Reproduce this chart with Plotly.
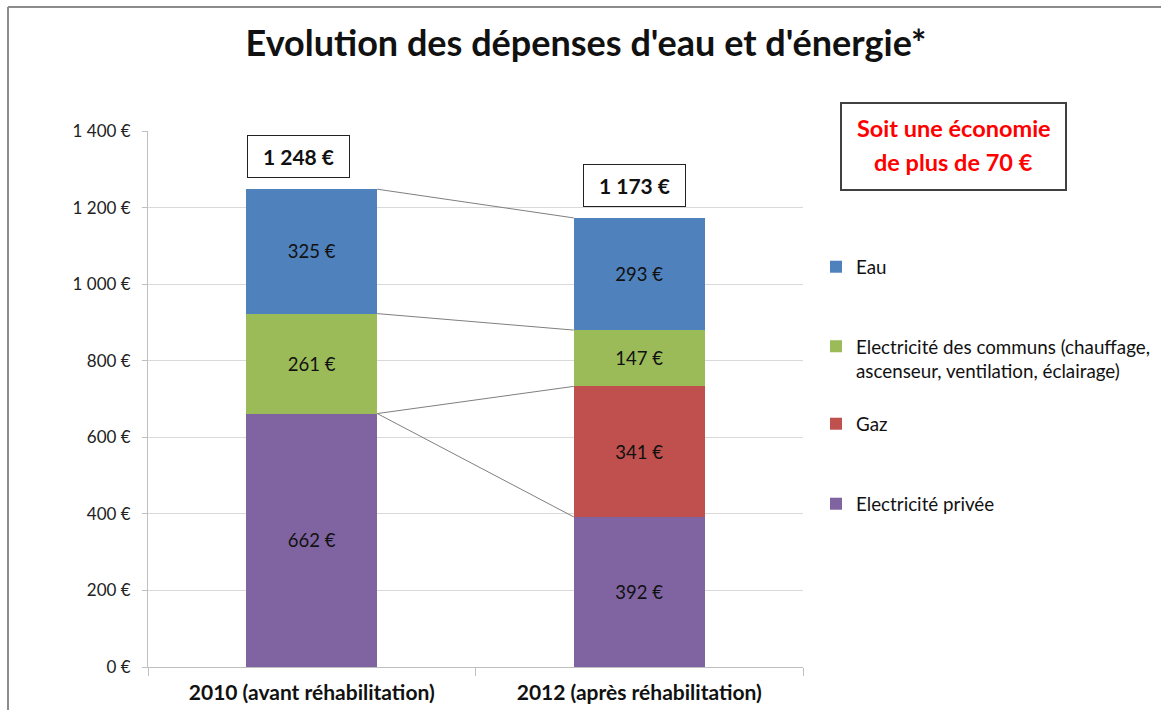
import plotly.graph_objects as go

# ---- data ----
categories = ["2010 (avant réhabilitation)", "2012 (après réhabilitation)"]
series_names = ["Electricité privée", "Gaz",
                "Electricité des communs (chauffage,<br>ascenseur, ventilation, éclairage)", "Eau"]
elec_privee = [662, 392]
gaz = [0, 341]
elec_communs = [261, 147]
eau = [325, 293]
y_tickvals = [0, 200, 400, 600, 800, 1000, 1200, 1400]
y_ticktext = ["0 €", "200 €", "400 €", "600 €", "800 €", "1 000 €", "1 200 €", "1 400 €"]
note_lines = ["Soit une économie", "de plus de 70 €"]

colors = ["#8064A2", "#C0504D", "#9BBB59", "#4F81BD"]
series_vals = [elec_privee, gaz, elec_communs, eau]

FONT = "Lato"
W, H = 1161, 710
L, R, T, B = 148, 803, 131, 667


def px_x(p):
    return (p - L) / (R - L)


def px_y(p):
    return (B - p) / (B - T)


def fmt(v):
    return f"{v:,}".replace(",", " ") + " €"


xpos = list(range(len(categories)))
BW = 0.4
fig = go.Figure()

legend_ids = ["legend4", "legend3", "legend2", "legend"]
for name, vals, col, lg in zip(series_names, series_vals, colors, legend_ids):
    fig.add_trace(go.Bar(
        x=xpos, y=vals, name=name, width=BW,
        marker=dict(color=col, line=dict(width=0)),
        text=[fmt(v) if v else "" for v in vals],
        textposition="inside", insidetextanchor="middle", textangle=0,
        constraintext="none",
        textfont=dict(family=FONT, size=18.5, color="#111111"),
        legend=lg,
    ))

# series lines connecting stacked tops
cum = [0, 0]
for vals in series_vals:
    cum = [c + v for c, v in zip(cum, vals)]
    fig.add_trace(go.Scatter(
        x=[xpos[0] + BW / 2, xpos[1] - BW / 2], y=list(cum), mode="lines",
        line=dict(color="#7F7F7F", width=1), showlegend=False, hoverinfo="skip"))

totals = [sum(v[i] for v in series_vals) for i in range(len(categories))]
shifts = [-13, -5]
for i, tot in enumerate(totals):
    fig.add_annotation(x=xpos[i], y=tot, xref="x", yref="y", yanchor="bottom",
                       yshift=11, xshift=shifts[i],
                       text=f"<b>{fmt(tot)}</b>", showarrow=False,
                       font=dict(family=FONT, size=21, color="#111111"),
                       width=101, height=41, bgcolor="white",
                       bordercolor="#222222", borderwidth=1, borderpad=0)

# note box
fig.add_shape(type="rect", xref="paper", yref="paper",
              x0=px_x(841), x1=px_x(1066), y0=px_y(190), y1=px_y(103),
              line=dict(color="#404040", width=2), fillcolor="white", layer="above")
for txt, py in zip(note_lines, [128, 162]):
    fig.add_annotation(x=px_x(953.5), y=px_y(py), xref="paper", yref="paper",
                       text=f"<b>{txt}</b>", showarrow=False, xanchor="center", yanchor="middle",
                       font=dict(family=FONT, size=23.5, color="#FF0000"))

# outer frame (left and top edges visible)
fig.add_shape(type="line", xref="paper", yref="paper",
              x0=px_x(8), x1=px_x(8), y0=px_y(720), y1=px_y(7),
              line=dict(color="#8C8C8C", width=2), layer="below")
fig.add_shape(type="line", xref="paper", yref="paper",
              x0=px_x(8), x1=px_x(1170), y0=px_y(7), y1=px_y(7),
              line=dict(color="#8C8C8C", width=2), layer="below")

leg_common = dict(font=dict(family=FONT, size=18.8, color="#111111"), bgcolor="rgba(0,0,0,0)",
                  xanchor="left", itemwidth=30, borderwidth=0)
LEGX = px_x(816)
fig.update_layout(
    legend=dict(x=LEGX, y=px_y(267), yanchor="middle", **leg_common),
    legend2=dict(x=LEGX, y=px_y(358.5), yanchor="middle", valign="top", **leg_common),
    legend3=dict(x=LEGX, y=px_y(424), yanchor="middle", **leg_common),
    legend4=dict(x=LEGX, y=px_y(504), yanchor="middle", **leg_common),
)

fig.update_layout(
    width=W, height=H, barmode="stack",
    margin=dict(l=L, r=W - R, t=T, b=H - B, pad=0, autoexpand=False),
    paper_bgcolor="white", plot_bgcolor="white",
    title=dict(text="<b>Evolution des dépenses d'eau et d'énergie*</b>",
               x=586 / W, xanchor="center", y=1 - 43 / H, yanchor="middle",
               xref="container", yref="container",
               font=dict(family=FONT, size=36, color="#111111")),
    xaxis=dict(range=[-0.5, 1.5], tickvals=xpos, ticktext=[f"<b>{c}</b>" for c in categories],
               ticks="", showgrid=False, zeroline=False, showline=True, automargin=False,
               linecolor="#BFBFBF", linewidth=1,
               tickfont=dict(family=FONT, size=21, color="#111111"),
               ticklabelstandoff=7,
               minor=dict(tickvals=[-0.5, 0.5, 1.5], ticks="outside", ticklen=8,
                          tickcolor="#BFBFBF", showgrid=False)),
    yaxis=dict(range=[0, 1400], tickvals=y_tickvals, ticktext=y_ticktext,
               showgrid=True, gridcolor="#D9D9D9", gridwidth=1, zeroline=False,
               showline=True, linecolor="#BFBFBF", linewidth=1, automargin=False,
               ticks="outside", ticklen=5, tickcolor="#BFBFBF",
               tickfont=dict(family=FONT, size=17, color="#222222"),
               ticklabelstandoff=8),
    showlegend=True,
)

fig.write_html("out.html", config={"displayModeBar": False},
               post_script="document.body.style.margin='0';document.body.style.overflow='hidden';")
